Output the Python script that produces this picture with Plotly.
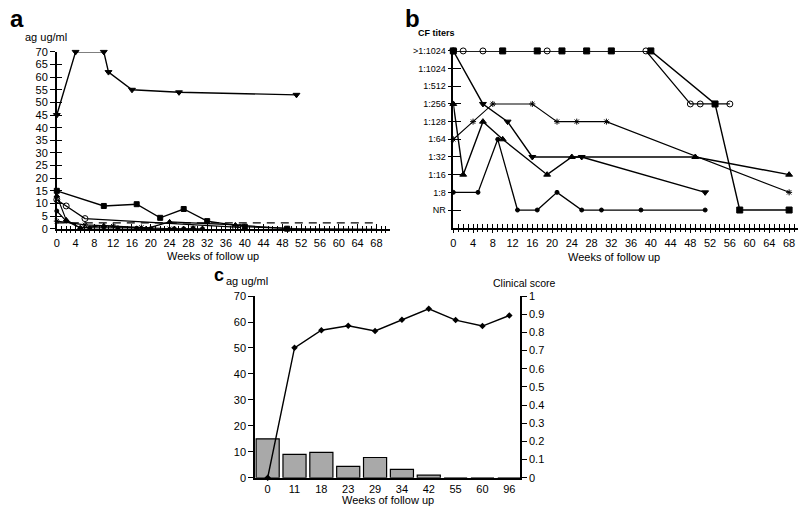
import plotly.graph_objects as go

# ---------------- Panel a data (ag ug/ml vs weeks) ----------------
a_invtri_w = [0, 4, 10, 11, 16, 26, 51]
a_invtri = [45, 70, 70, 62, 55, 54, 53]
a_sq_w = [0, 10, 17, 22, 27, 32, 40, 49, 53, 58, 68]
a_sq = [15, 9, 9.7, 4.3, 7.8, 3, 0.8, 0, -0.2, -0.2, -0.3]
a_circ_w = [0, 2, 6, 38, 39]
a_circ = [11.5, 9, 4, 0.6, 0.5]
a_tri_w = [0, 2, 5, 10, 19, 24, 38, 49, 66, 68]
a_tri = [13, 3.5, 0.3, 1.2, 0, 2.7, 1.5, 0, -0.3, -0.3]
a_dot_w = [0, 2, 5, 7, 10, 13, 17, 20, 25, 27, 29, 31]
a_dot = [7, 3, 0.3, 0.3, 0.6, 0.3, 0.2, 0, 0, 0, 0.2, 0]
a_star_w = [0, 6, 12, 18, 24, 29]
a_star = [3, 1.5, 1, 0.5, 0, 0]
a_cut_w = [0, 68]
a_cut = [2.3, 2.3]

# ---------------- Panel b data (CF titer index vs weeks) ----------------
b_ticktext = ["NR", "1:8", "1:16", "1:32", "1:64", "1:128", "1:256", "1:512", "1:1024", ">1:1024"]
b_tickvals = [0, 1, 2, 3, 4, 5, 6, 7, 8, 9]
b_sq_w = [0, 10, 17, 22, 27, 32, 40, 53, 58, 68]
b_sq = [9, 9, 9, 9, 9, 9, 9, 6, 0, 0]
b_circ_w = [0, 2, 6, 19, 39, 48, 50, 56]
b_circ = [9, 9, 9, 9, 9, 6, 6, 6]
b_invtri_w = [0, 6, 11, 16, 26, 51]
b_invtri = [9, 6, 5, 3, 3, 1]
b_tri_w = [0, 2, 6, 10, 19, 24, 49, 68]
b_tri = [6, 2, 5, 4, 2, 3, 3, 2]
b_dot_w = [0, 5, 9, 13, 17, 21, 26, 30, 38, 51]
b_dot = [1, 1, 4, 0, 0, 1, 0, 0, 0, 0]
b_star_w = [0, 4, 8, 16, 21, 25, 31, 68]
b_star = [4, 5, 6, 6, 5, 5, 5, 1]

# ---------------- Panel c data ----------------
c_weeks = ["0", "11", "18", "23", "29", "34", "42", "55", "60", "96"]
c_ag = [15, 9, 9.8, 4.4, 7.8, 3.2, 1.0, 0, 0, 0]
c_score = [0, 0.715, 0.812, 0.837, 0.808, 0.87, 0.93, 0.868, 0.835, 0.893]

W, H = 800, 515
def dx(p): return p / W
def dy(p): return 1 - p / H

FONT = "Liberation Sans, Arial, sans-serif"
tf = dict(family=FONT, size=11, color="black")

fig = go.Figure()

def line_trace(x, y, xa, ya, symbol, size, width=1.4, dash=None, mode="lines+markers"):
    return go.Scatter(
        x=x, y=y, xaxis=xa, yaxis=ya, mode=mode, cliponaxis=False, hoverinfo="skip",
        line=dict(color="black", width=width, dash=dash),
        marker=dict(symbol=symbol, size=size, color="black", line=dict(color="black", width=1)),
    )

# Panel a
fig.add_trace(line_trace(a_cut_w, a_cut, "x", "y", "circle", 1, width=1.3, dash="8px,6px", mode="lines"))
fig.add_trace(line_trace(a_star_w, a_star, "x", "y", "asterisk-open", 5, width=1.1))
fig.add_trace(line_trace(a_dot_w, a_dot, "x", "y", "circle", 4, width=1.2))
fig.add_trace(line_trace(a_tri_w, a_tri, "x", "y", "triangle-up", 5, width=1.2))
fig.add_trace(line_trace(a_circ_w, a_circ, "x", "y", "circle-open", 6, width=1.2))
fig.add_trace(line_trace(a_sq_w, a_sq, "x", "y", "square", 5))
fig.add_trace(line_trace(a_invtri_w, a_invtri, "x", "y", "triangle-down", 6))
fig.add_trace(go.Scatter(x=[0], y=[0], xaxis="x5", yaxis="y5", mode="markers",
                         marker=dict(opacity=0), hoverinfo="skip"))

# Panel b
fig.add_trace(line_trace(b_star_w, b_star, "x2", "y2", "asterisk-open", 5, width=1.1))
fig.add_trace(line_trace(b_dot_w, b_dot, "x2", "y2", "circle", 4, width=1.3))
fig.add_trace(line_trace(b_tri_w, b_tri, "x2", "y2", "triangle-up", 6))
fig.add_trace(line_trace(b_invtri_w, b_invtri, "x2", "y2", "triangle-down", 6))
fig.add_trace(line_trace(b_circ_w, b_circ, "x2", "y2", "circle-open", 6, width=1.3))
fig.add_trace(line_trace(b_sq_w, b_sq, "x2", "y2", "square", 6))
fig.add_trace(go.Scatter(x=[0], y=[0], xaxis="x6", yaxis="y6", mode="markers",
                         marker=dict(opacity=0), hoverinfo="skip"))

# Panel c
fig.add_trace(go.Bar(x=c_weeks, y=c_ag, xaxis="x3", yaxis="y3", width=0.86,
                     marker=dict(color="#a9a9a9", line=dict(color="black", width=1.2)),
                     hoverinfo="skip"))
fig.add_trace(go.Scatter(x=c_weeks, y=c_score, xaxis="x3", yaxis="y4", mode="lines+markers",
                         cliponaxis=False, hoverinfo="skip",
                         line=dict(color="black", width=1.4),
                         marker=dict(symbol="diamond", size=5, color="black")))

base = dict(showgrid=False, zeroline=False, tickcolor="black", tickfont=tf)
axline = dict(showline=True, linecolor="black", linewidth=1.5)

fig.update_layout(
    width=W, height=H, margin=dict(l=0, r=0, t=0, b=0),
    paper_bgcolor="white", plot_bgcolor="rgba(0,0,0,0)", showlegend=False,
    # panel a
    xaxis=dict(domain=[dx(54), dx(388)], range=[0, 70.8], anchor="y", tick0=0, dtick=4,
               ticks="outside", ticklen=3, tickwidth=1.2,
               minor=dict(dtick=1, tick0=0, ticks="outside", ticklen=3, tickwidth=1, tickcolor="black"),
               **axline, **base),
    yaxis=dict(domain=[dy(228), dy(47)], range=[0, 70], anchor="x", tick0=0, dtick=5,
               ticks="outside", ticklen=5, tickwidth=1.2, **axline, **base),
    xaxis5=dict(overlaying="x", anchor="y", range=[0, 70.8], tick0=0, dtick=4,
                ticks="inside", ticklen=5, tickwidth=1.2, showticklabels=False, showline=False,
                minor=dict(dtick=1, tick0=0, ticks="inside", ticklen=3, tickwidth=1, tickcolor="black"),
                **base),
    yaxis5=dict(overlaying="y", anchor="x", range=[0, 70], tick0=0, dtick=5,
                ticks="inside", ticklen=5, tickwidth=1.2, showticklabels=False, showline=False, **base),
    # panel b
    xaxis2=dict(domain=[dx(452), dx(798)], range=[0, 69.8], anchor="y2", tick0=0, dtick=4,
                ticks="outside", ticklen=4, tickwidth=1.2,
                minor=dict(dtick=1, tick0=0, ticks="outside", ticklen=3, tickwidth=1, tickcolor="black"),
                **axline, **base),
    yaxis2=dict(domain=[dy(227), dy(46)], range=[-1, 9], anchor="x2",
                tickvals=b_tickvals, ticktext=b_ticktext,
                ticks="outside", ticklen=4, tickwidth=1.2, showline=True, linecolor="black",
                linewidth=1.5, showgrid=False, zeroline=False, tickcolor="black",
                tickfont=dict(family=FONT, size=9, color="black")),
    xaxis6=dict(overlaying="x2", anchor="y2", range=[0, 69.8], tick0=0, dtick=4,
                ticks="inside", ticklen=4, tickwidth=1.2, showticklabels=False, showline=False,
                minor=dict(dtick=1, tick0=0, ticks="inside", ticklen=4, tickwidth=1, tickcolor="black"),
                **base),
    yaxis6=dict(overlaying="y2", anchor="x2", range=[-1, 9], tickvals=b_tickvals,
                ticks="inside", ticklen=8, tickwidth=1.2, showticklabels=False, showline=False, **base),
    # panel c
    xaxis3=dict(domain=[dx(253), dx(519)], range=[-0.47, 9.4], anchor="y3", type="category",
                ticks="", **axline, **base),
    yaxis3=dict(domain=[dy(483), dy(297)], range=[0, 70], anchor="x3", tick0=0, dtick=10,
                ticks="outside", ticklen=5, tickwidth=1.2, **axline, **base),
    yaxis4=dict(overlaying="y3", side="right", anchor="x3", range=[0, 1], tick0=0, dtick=0.1,
                ticks="outside", ticklen=5, tickwidth=1.2, **axline, **base),
)

def ann(text, x, y, size=11, xanchor="center"):
    return dict(text=text, x=dx(x), y=dy(y), xref="paper", yref="paper", showarrow=False,
                xanchor=xanchor, yanchor="middle", font=dict(family=FONT, size=size, color="black"))

fig.update_layout(annotations=[
    ann("<b>a</b>", 14, 13, size=24),
    ann("<b>b</b>", 411, 13, size=24),
    ann("<b>c</b>", 217, 275, size=18),
    ann("ag ug/ml", 43, 32, size=11),
    ann("<b>CF titers</b>", 435, 28, size=9),
    ann("Weeks of follow up", 211, 256, size=11),
    ann("Weeks of follow up", 613, 257, size=11),
    ann("ag ug/ml", 245, 282, size=11),
    ann("Clinical score", 523, 284, size=10.5),
    ann("Weeks of follow up", 386, 506, size=11),
])

fig.write_html("out.html", post_script="document.body.style.margin='0';",
               config={"displayModeBar": False})
